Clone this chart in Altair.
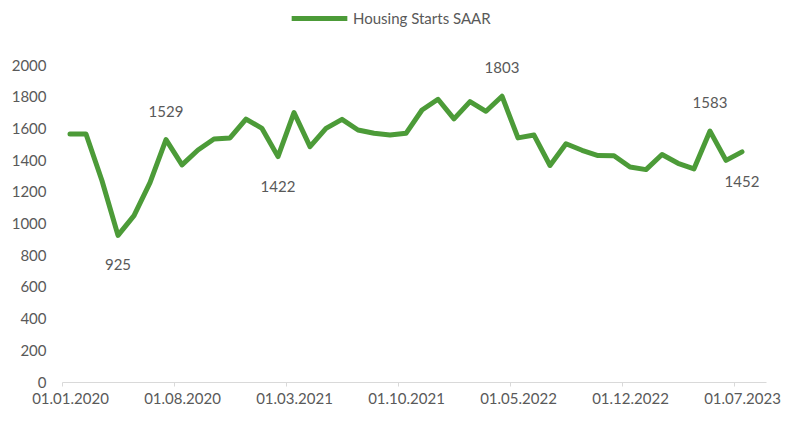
import altair as alt
import pandas as pd

series_name = "Housing Starts SAAR"
months = pd.date_range("2020-01-01", "2023-07-01", freq="MS").strftime("%d.%m.%Y").tolist()
values = [1565, 1565, 1270, 925, 1050, 1258, 1529, 1370, 1464, 1533, 1540, 1659,
          1600, 1422, 1700, 1485, 1600, 1657, 1590, 1569, 1558, 1569, 1716, 1784,
          1660, 1769, 1708, 1803, 1540, 1558, 1366, 1503, 1462, 1429, 1427, 1356,
          1340, 1435, 1380, 1345, 1583, 1398, 1452]
tick_idx = [0, 7, 14, 21, 28, 35, 42]
tick_labels = ["01.01.2020", "01.08.2020", "01.03.2021", "01.10.2021",
               "01.05.2022", "01.12.2022", "01.07.2023"]
labels_above = [6, 27, 40]
labels_below = [3, 13, 42]

df = pd.DataFrame({
    "idx": list(range(len(values))),
    "month": months,
    "value": values,
    "series": [series_name] * len(values),
})
df["pos"] = ["above" if i in labels_above else ("below" if i in labels_below else "") for i in df["idx"]]

FONT = "Lato"
GREY = "#595959"
W, H = 704, 317

label_map = "{" + ",".join(f"'{i}':'{t}'" for i, t in zip(tick_idx, tick_labels)) + "}"

x = alt.X("idx:Q",
          scale=alt.Scale(domain=[-0.5, 43.5], nice=False, zero=False),
          axis=alt.Axis(values=tick_idx, labelExpr=f"{label_map}[''+datum.value]",
                        title=None, grid=False, domainColor="#d9d9d9", domainWidth=1,
                        tickColor="#d9d9d9", tickSize=4, tickOffset=-8, labelOffset=8,
                        labelFont=FONT, labelFontSize=15, labelColor=GREY,
                        labelPadding=5, labelFlush=False, labelOverlap=False))
y = alt.Y("value:Q",
          scale=alt.Scale(domain=[0, 2000], nice=False),
          axis=alt.Axis(values=list(range(0, 2001, 200)), format="d", title=None, grid=False,
                        domain=False, ticks=False, labelFont=FONT, labelFontSize=15,
                        labelColor=GREY, labelPadding=16))

line = alt.Chart(df).mark_line(strokeWidth=5, strokeJoin="round", strokeCap="round").encode(
    x=x, y=y,
    color=alt.Color("series:N",
                    scale=alt.Scale(range=["#4c9b38"]),
                    legend=alt.Legend(title=None, orient="none", legendX=227, legendY=-77,
                                      symbolType="stroke", symbolSize=3100,
                                      symbolStrokeWidth=5, labelFont=FONT,
                                      labelFontSize=15, labelColor=GREY, labelOffset=3,
                                      padding=0)),
)

above = alt.Chart(df).transform_filter("datum.pos == 'above'").mark_text(
    font=FONT, fontSize=15, color=GREY, dy=-28, baseline="middle", align="center"
).encode(x=x, y=y, text="value:Q")

below = alt.Chart(df).transform_filter("datum.pos == 'below'").mark_text(
    font=FONT, fontSize=15, color=GREY, dy=30, baseline="middle", align="center"
).encode(x=x, y=y, text="value:Q")

chart = alt.layer(line, above, below).properties(
    width=W, height=H,
    autosize=alt.AutoSizeParams(type="none"),
    padding={"left": 54, "top": 57, "right": 19, "bottom": 30},
).configure(background="white").configure_view(stroke=None)

chart.save("out.html", embed_options={"renderer": "svg", "actions": False})
